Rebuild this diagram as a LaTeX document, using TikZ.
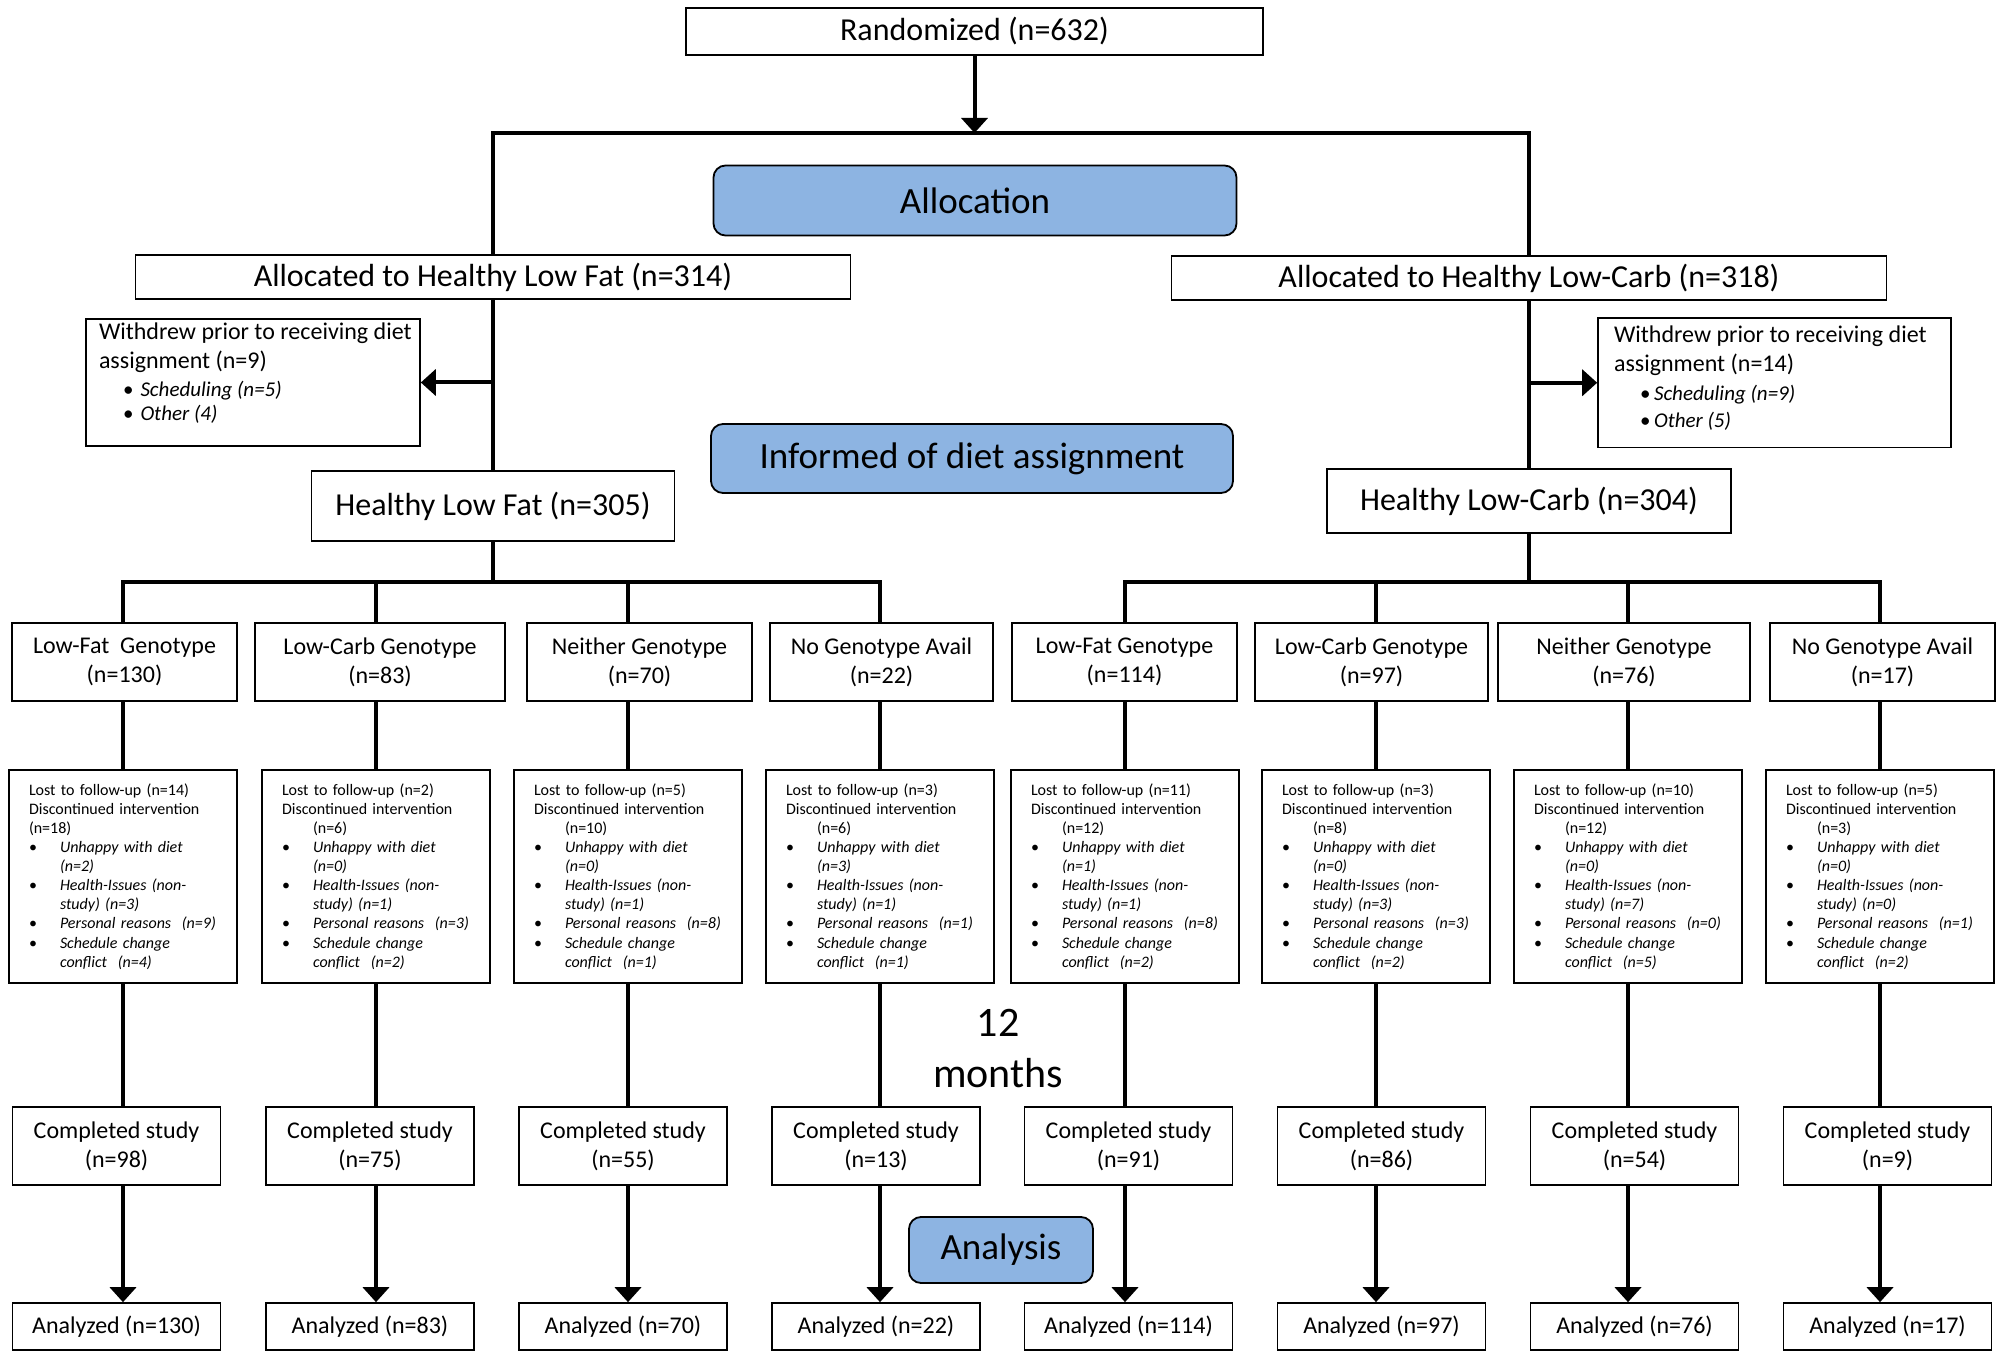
\documentclass[tikz,border=0pt]{standalone}
\usepackage{fontspec}
\setmainfont{Carlito}
\usetikzlibrary{arrows.meta}

\definecolor{phaseblue}{RGB}{141,180,226}
\newcommand{\bigtxt}{\fontsize{16}{19.5}\selectfont}
\newcommand{\midtxt}{\fontsize{12}{14.5}\selectfont}
\newcommand{\smalltxt}{\fontsize{8}{9.55}\selectfont}
\newcommand{\phasetxt}{\fontsize{18.5}{22}\selectfont}
\newcommand{\itm}{\makebox[15.5pt][l]{\textbullet}}
\newcommand{\hng}{\hspace*{15.5pt}}
\newcommand{\wditem}[3]{\hspace*{#1}\makebox[#2][l]{\fontsize{10.5}{12}\selectfont\textbullet}{\fontsize{10.5}{12}\selectfont\itshape #3}}
\newcommand{\lossnote}[7]{Lost to follow-up (n=#1)\\
Discontinued intervention\\
#7(n=#2)\\
\itm\textit{Unhappy with diet}\\
\hng\textit{(n=#3)}\\
\itm\textit{Health-Issues (non-}\\
\hng\textit{study) (n=#4)}\\
\itm\textit{Personal reasons~ (n=#5)}\\
\itm\textit{Schedule change}\\
\hng\textit{conflict~ (n=#6)}}

\begin{document}
\begin{tikzpicture}[x=0.5pt, y=-0.5pt,
  box/.style={draw, line width=0.8pt, inner sep=0pt, align=center},
  phase/.style={draw, line width=0.9pt, rounded corners=6pt, fill=phaseblue, inner sep=0pt, font=\phasetxt},
  lossbox/.style={draw, line width=0.8pt, text width=94pt, inner xsep=10pt, inner ysep=0pt,
    minimum height=106.5pt, align=left, font=\smalltxt},
  wdbox/.style={draw, line width=0.8pt, inner ysep=2pt},
  link/.style={line width=2pt},
  arr/.style={line width=2pt, -{Triangle[length=7.5pt,width=13pt]}}]
\useasboundingbox (0,0) rectangle (2003,1352);

% enrolment and allocation
\node[box, minimum width=288.5pt, minimum height=23.5pt, font=\bigtxt] (rand) at (974.5,31.5) {Randomized (n=632)};
\node[phase, minimum width=261.5pt, minimum height=35pt] (alloc) at (975,200.5) {Allocation};
\node[box, minimum width=357.5pt, minimum height=22pt, font=\bigtxt] (alf) at (493,277) {Allocated to Healthy Low Fat (n=314)};
\node[box, minimum width=357.5pt, minimum height=22pt, font=\bigtxt] (alc) at (1529,278) {Allocated to Healthy Low-Carb (n=318)};

\node[wdbox, inner xsep=6.5pt] (wdlf) at (253,382.5) {\parbox[c][59.5pt][t]{154pt}{\raggedright\fontsize{12}{14.25}\selectfont
  \mbox{Withdrew prior to receiving diet}\\
  assignment (n=9)\\
  \wditem{12pt}{8.75pt}{Scheduling (n=5)}\\[-2.25pt]
  \wditem{12pt}{8.75pt}{Other (4)}}};
\node[wdbox, inner xsep=8pt, inner ysep=4pt] (wdlc) at (1774.5,382.75) {\parbox[c][56.75pt][t]{160.5pt}{\raggedright\fontsize{12}{14.5}\selectfont
  \mbox{Withdrew prior to receiving diet}\\
  assignment (n=14)\\
  \wditem{13pt}{7pt}{Scheduling (n=9)}\\[-1pt]
  \wditem{13pt}{7pt}{Other (5)}}};

\node[phase, minimum width=261pt, minimum height=34.5pt] (inform) at (972,458.5) {Informed of diet assignment};
\node[box, minimum width=181.5pt, minimum height=35pt, font=\bigtxt] (hlf) at (493,506) {Healthy Low Fat (n=305)};
\node[box, minimum width=202pt, minimum height=32pt, font=\bigtxt] (hlc) at (1529,501) {Healthy Low-Carb (n=304)};

% genotype groups
\foreach \n/\x/\w/\lbl/\k in {1/124.5/112.5/Low-Fat~ Genotype/130, 2/380/125/Low-Carb Genotype/83,
    3/639.5/112.5/Neither Genotype/70, 4/881.5/111.5/No Genotype Avail/22,
    5/1124.5/112.5/Low-Fat Genotype/114, 6/1371.5/116.5/Low-Carb Genotype/97,
    7/1624/126/Neither Genotype/76, 8/1882.5/112.5/No Genotype Avail/17}
  \node[box, minimum width=\w pt, minimum height=39pt, font=\midtxt] (g\n) at (\x,662) {\lbl\\(n=\k)};

% losses
\foreach \n/\x/\lo/\di/\un/\he/\pe/\sc/\ind in {1/123/14/18/2/3/9/4/{}, 2/376/2/6/0/1/3/2/\hng,
    3/628/5/10/0/1/8/1/\hng, 4/880/3/6/3/1/1/1/\hng, 5/1125/11/12/1/1/8/2/\hng,
    6/1376/3/8/0/3/3/2/\hng, 7/1628/10/12/0/7/0/5/\hng, 8/1880/5/3/0/0/1/2/\hng}
  \node[lossbox] (d\n) at (\x,876.5) {\lossnote{\lo}{\di}{\un}{\he}{\pe}{\sc}{\ind}};

% completion and analysis
\foreach \n/\x/\k/\m in {1/116.5/98/130, 2/370/75/83, 3/623/55/70, 4/876/13/22,
    5/1128.5/91/114, 6/1381.5/86/97, 7/1634.5/54/76, 8/1887.5/9/17} {
  \node[box, minimum width=104pt, minimum height=39pt, font=\midtxt] (c\n) at (\x,1146) {Completed study\\(n=\k)};
  \node[box, minimum width=104pt, minimum height=23.5pt, font=\midtxt] (a\n) at (\x,1326.5) {Analyzed (n=\m)};
}

\node[align=center, font=\fontsize{21}{25.5}\selectfont] (months) at (998,1049) {12\\months};
\node[phase, minimum width=92pt, minimum height=33pt] (analysis) at (1001,1250) {Analysis};

% connectors
\coordinate (topbar) at (974.5,133);
\coordinate (lfbar) at (493,582);
\coordinate (lcbar) at (1529,582);
\draw[arr] (rand.south) -- (topbar);
\draw[link] (alf.north) -- (alf |- topbar) -- (alc |- topbar) -- (alc.north);
\draw[link] (alf.south) -- (hlf.north);
\draw[link] (alc.south) -- (hlc.north);
\draw[arr] (alf |- wdlf.east) -- (wdlf.east);
\draw[arr] (alc |- wdlc.west) -- (wdlc.west);
\draw[link] (hlf.south) -- (lfbar);
\draw[link] (hlc.south) -- (lcbar);
\draw[link] (d1 |- g1.north) -- (d1 |- lfbar) -- (d4 |- lfbar) -- (d4 |- g4.north);
\draw[link] (d5 |- g5.north) -- (d5 |- lcbar) -- (d8 |- lcbar) -- (d8 |- g8.north);
\foreach \n in {2,3} \draw[link] (d\n |- lfbar) -- (d\n |- g\n.north);
\foreach \n in {6,7} \draw[link] (d\n |- lcbar) -- (d\n |- g\n.north);
\foreach \n in {1,...,8} {
  \draw[link] (d\n |- g\n.south) -- (d\n.north);
  \draw[link] (d\n.south) -- (d\n |- c\n.north);
  \draw[arr] (d\n |- c\n.south) -- (d\n |- a\n.north);
}
\end{tikzpicture}
\end{document}
